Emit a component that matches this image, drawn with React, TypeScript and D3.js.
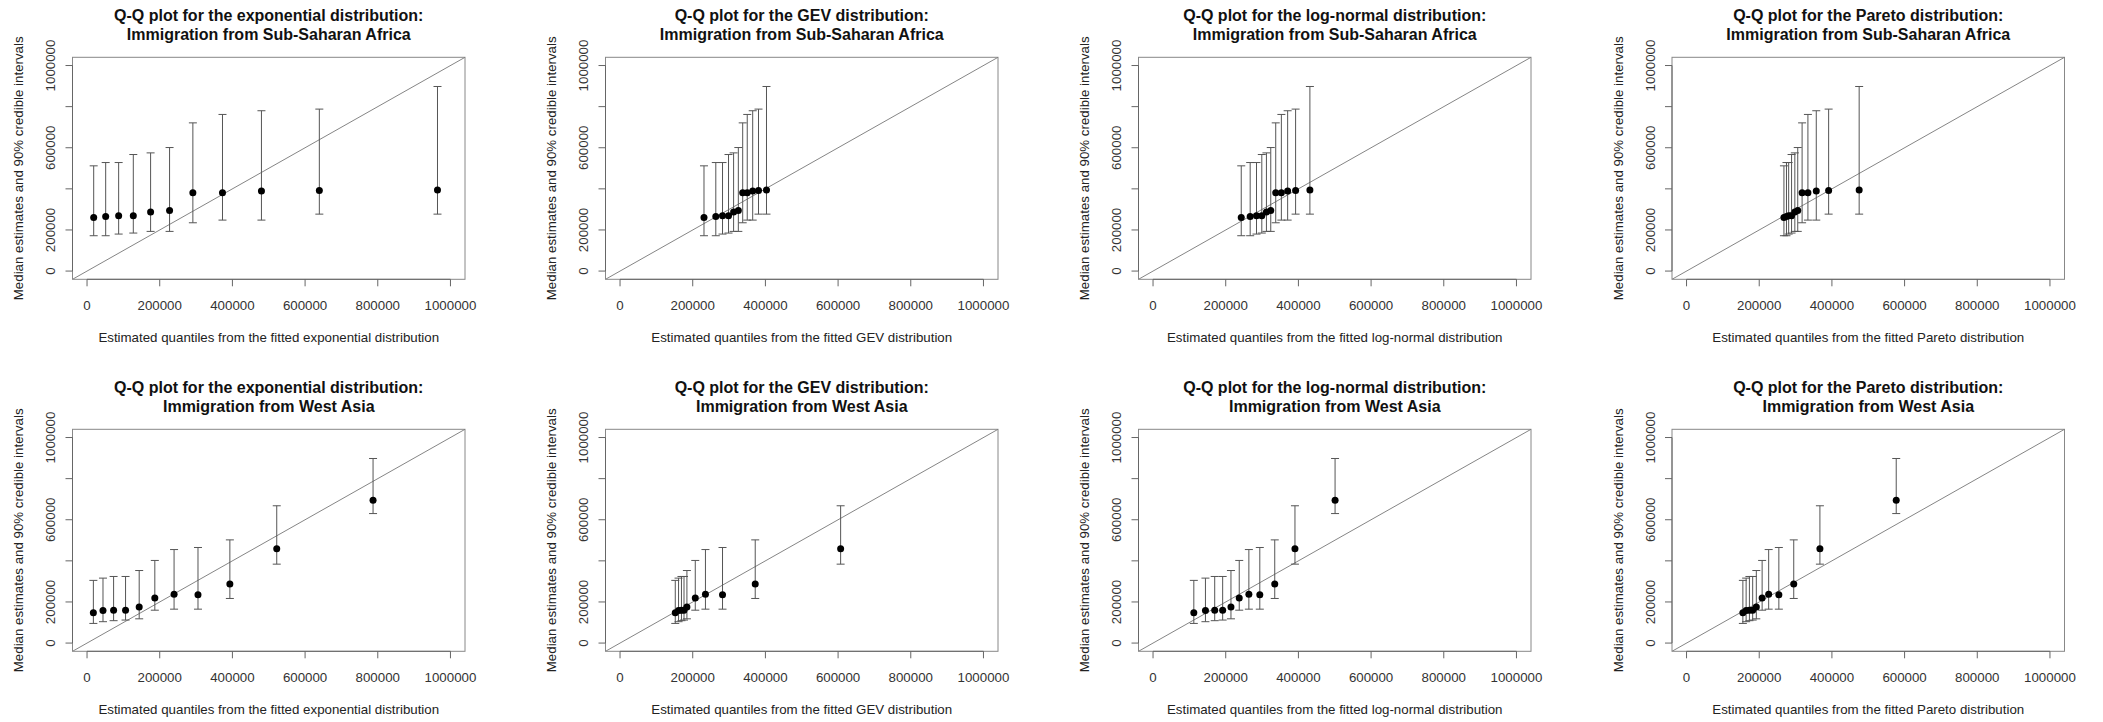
import React from "react";
import * as d3 from "d3";

// ---------- data ----------
const distributions = ["exponential", "GEV", "log-normal", "Pareto"];
const regions = ["Sub-Saharan Africa", "West Asia"];
const xTicks = [0, 200000, 400000, 600000, 800000, 1000000];
const yTicks = [0, 200000, 400000, 600000, 800000, 1000000];
const yTickLabels = ["0", "200000", "", "600000", "", "1000000"];

// Sub-Saharan Africa: median estimates and 90% credible intervals
const ssaMedian = [261000, 266000, 269000, 269000, 288000, 295000, 381000, 381000, 389000, 392000, 395000];
const ssaLower = [172000, 172000, 180000, 185000, 193000, 193000, 235000, 248000, 248000, 277000, 277000];
const ssaUpper = [512000, 528000, 528000, 567000, 575000, 601000, 721000, 762000, 780000, 788000, 898000];

// West Asia: median estimates and 90% credible intervals
const waMedian = [147500, 159000, 160000, 160000, 175000, 219000, 237000, 235000, 287000, 459000, 695000];
const waLower = [95600, 104000, 109000, 112000, 118000, 160000, 165000, 165000, 217000, 384000, 630000];
const waUpper = [305000, 316000, 324000, 324000, 353000, 402000, 455000, 465000, 502000, 668000, 898000];

// Estimated quantiles from the fitted distributions
const ssaExponential = [18300, 51300, 87000, 127300, 174900, 227100, 291200, 372700, 479900, 639200, 964300];
const ssaGEV = [231000, 263500, 282000, 298500, 312500, 325500, 337500, 350000, 365000, 381000, 403000];
const ssaLogNormal = [242700, 267300, 284700, 299300, 312000, 323900, 337600, 353100, 370400, 392300, 431600];
const ssaPareto = [268000, 275000, 281000, 289000, 298000, 306000, 318000, 334000, 357000, 391000, 475000];

const waExponential = [17400, 43900, 73100, 106000, 143500, 186500, 239500, 305300, 393000, 522000, 787000];
const waGEV = [152000, 161000, 169000, 176000, 184000, 207000, 235000, 282000, 372000, 607000, 1200000];
const waLogNormal = [112200, 144200, 169700, 191600, 214400, 237200, 263700, 293800, 334900, 390500, 500900];
const waPareto = [155000, 164000, 173000, 182000, 192000, 208000, 226000, 254000, 295000, 367000, 577000];

const quantiles = [
  [ssaExponential, ssaGEV, ssaLogNormal, ssaPareto],
  [waExponential, waGEV, waLogNormal, waPareto],
];
const medians = [ssaMedian, waMedian];
const lowers = [ssaLower, waLower];
const uppers = [ssaUpper, waUpper];

// ---------- layout ----------
const W = 2103;
const H = 722;
const colLefts = [72.5, 605.5, 1138.5, 1672];
const rowTops = [57.3, 429.3];
const boxW = 392.5;
const boxH = 222;
const FONT = "'Liberation Sans', Arial, Helvetica, sans-serif";
const fmt = (v: number) => String(v);

function Panel({ row, col }: { row: number; col: number }) {
  const left = colLefts[col];
  const top = rowTops[row];
  const x = d3.scaleLinear().domain([-40000, 1040000]).range([left, left + boxW]);
  const y = d3.scaleLinear().domain([-40000, 1040000]).range([top + boxH, top]);
  const xs = quantiles[row][col];
  const med = medians[row];
  const lo = lowers[row];
  const hi = uppers[row];
  const clipId = `clip-${row}-${col}`;
  const bottom = top + boxH;
  const cx = left + boxW / 2;
  const cy = top + boxH / 2;
  const dist = distributions[col];
  const diag = d3.line<number>()
    .x((d) => x(d))
    .y((d) => y(d));
  return (
    <g>
      <defs>
        <clipPath id={clipId}>
          <rect x={left} y={top} width={boxW} height={boxH} />
        </clipPath>
      </defs>
      {/* title */}
      <text x={cx} y={top - 36.3} textAnchor="middle" fontFamily={FONT} fontWeight="bold" fontSize={16} fill="#111">
        {`Q-Q plot for the ${dist} distribution:`}
      </text>
      <text x={cx} y={top - 17.3} textAnchor="middle" fontFamily={FONT} fontWeight="bold" fontSize={16} fill="#111">
        {`Immigration from ${regions[row]}`}
      </text>
      {/* box */}
      <rect x={left} y={top} width={boxW} height={boxH} fill="none" stroke="#888" strokeWidth={1} />
      {/* diagonal */}
      <path d={diag([-40000, 1040000]) || ""} stroke="#777" strokeWidth={0.9} fill="none" clipPath={`url(#${clipId})`} />
      {/* x axis */}
      <line x1={x(xTicks[0])} x2={x(xTicks[xTicks.length - 1])} y1={bottom} y2={bottom} stroke="#666" />
      {xTicks.map((t) => (
        <g key={`xt${t}`}>
          <line x1={x(t)} x2={x(t)} y1={bottom} y2={bottom + 7} stroke="#666" />
          <text x={x(t)} y={bottom + 30.5} textAnchor="middle" fontFamily={FONT} fontSize={13.3} fill="#333">
            {fmt(t)}
          </text>
        </g>
      ))}
      {/* y axis */}
      <line x1={left} x2={left} y1={y(yTicks[0])} y2={y(yTicks[yTicks.length - 1])} stroke="#666" />
      {yTicks.map((t, i) => (
        <g key={`yt${t}`}>
          <line x1={left - 7} x2={left} y1={y(t)} y2={y(t)} stroke="#666" />
          {yTickLabels[i] ? (
            <text
              transform={`translate(${left - 17.5},${y(t)}) rotate(-90)`}
              textAnchor="middle"
              fontFamily={FONT}
              fontSize={13.3}
              fill="#333"
            >
              {yTickLabels[i]}
            </text>
          ) : null}
        </g>
      ))}
      {/* axis labels */}
      <text x={cx} y={bottom + 62.7} textAnchor="middle" fontFamily={FONT} fontSize={13.3} fill="#222">
        {`Estimated quantiles from the fitted ${dist} distribution`}
      </text>
      <text
        transform={`translate(${left - 49.4},${cy}) rotate(-90)`}
        textAnchor="middle"
        fontFamily={FONT}
        fontSize={13.3}
        fill="#222"
      >
        Median estimates and 90% credible intervals
      </text>
      {/* error bars and points */}
      <g clipPath={`url(#${clipId})`}>
        {xs.map((q, i) => (
          <g key={`b${i}`}>
            <line x1={x(q)} x2={x(q)} y1={y(lo[i])} y2={y(hi[i])} stroke="#555" strokeWidth={1} />
            <line x1={x(q) - 4} x2={x(q) + 4} y1={y(lo[i])} y2={y(lo[i])} stroke="#555" strokeWidth={1} />
            <line x1={x(q) - 4} x2={x(q) + 4} y1={y(hi[i])} y2={y(hi[i])} stroke="#555" strokeWidth={1} />
          </g>
        ))}
        {xs.map((q, i) => (
          <circle key={`p${i}`} cx={x(q)} cy={y(med[i])} r={3.5} fill="#000" />
        ))}
      </g>
    </g>
  );
}

export default function App() {
  const cells: { row: number; col: number }[] = [];
  for (let r = 0; r < 2; r++) for (let c = 0; c < 4; c++) cells.push({ row: r, col: c });
  return (
    <svg
      width={W}
      height={H}
      viewBox={`0 0 ${W} ${H}`}
      style={{ position: "absolute", left: 0, top: 0, background: "#fff" }}
    >
      <rect x={0} y={0} width={W} height={H} fill="#fff" />
      {cells.map((c) => (
        <Panel key={`${c.row}-${c.col}`} row={c.row} col={c.col} />
      ))}
    </svg>
  );
}
